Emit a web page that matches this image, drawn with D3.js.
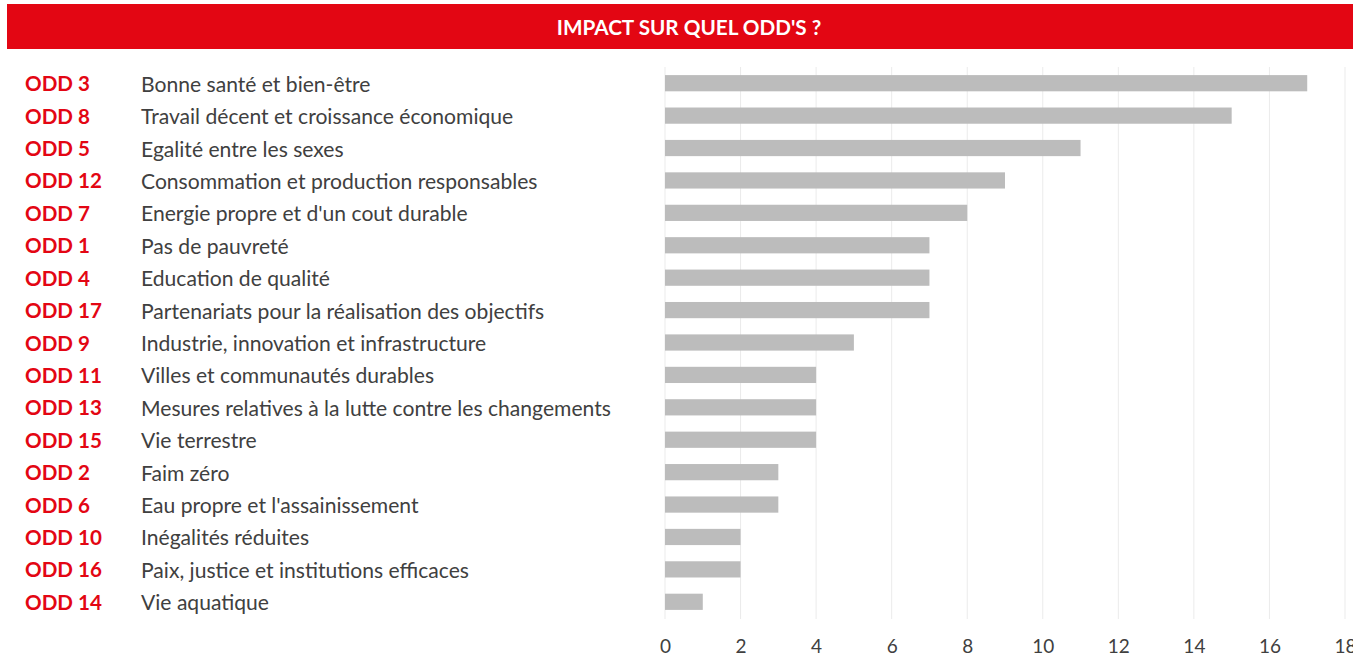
<!DOCTYPE html>
<html>
<head>
<meta charset="utf-8">
<script src="https://cdn.jsdelivr.net/npm/d3@7"></script>
<style>
  html, body { margin: 0; padding: 0; background: #fff; }
  svg { display: block; font-family: Lato, "Open Sans", sans-serif; }
</style>
</head>
<body>
<svg id="chart" width="1353" height="669"></svg>
<script>
// Objectifs de développement durable, triés par nombre de mentions
const codes = ["ODD 3", "ODD 8", "ODD 5", "ODD 12", "ODD 7", "ODD 1", "ODD 4", "ODD 17",
  "ODD 9", "ODD 11", "ODD 13", "ODD 15", "ODD 2", "ODD 6", "ODD 10", "ODD 16", "ODD 14"];
const names = [
  "Bonne santé et bien-être",
  "Travail décent et croissance économique",
  "Egalité entre les sexes",
  "Consommation et production responsables",
  "Energie propre et d'un cout durable",
  "Pas de pauvreté",
  "Education de qualité",
  "Partenariats pour la réalisation des objectifs",
  "Industrie, innovation et infrastructure",
  "Villes et communautés durables",
  "Mesures relatives à la lutte contre les changements",
  "Vie terrestre",
  "Faim zéro",
  "Eau propre et l'assainissement",
  "Inégalités réduites",
  "Paix, justice et institutions efficaces",
  "Vie aquatique"
];
const values = [17, 15, 11, 9, 8, 7, 7, 7, 5, 4, 4, 4, 3, 3, 2, 2, 1];
const xTicks = [0, 2, 4, 6, 8, 10, 12, 14, 16, 18];
const title = "IMPACT SUR QUEL ODD'S ?";

const svg = d3.select("#chart");

// Bandeau de titre
svg.append("rect")
  .attr("x", 7).attr("y", 4).attr("width", 1346).attr("height", 45)
  .attr("fill", "#e30613");
svg.append("text")
  .attr("x", 689).attr("y", 27)
  .attr("text-anchor", "middle").attr("dominant-baseline", "central")
  .attr("fill", "#fff").attr("font-weight", 700).attr("font-size", 20.7)
  .text(title);

const x = d3.scaleLinear().domain([0, 18]).range([665, 1345]);
const y = d3.scaleBand().domain(codes).range([67, 618]).paddingInner(0.5).paddingOuter(0.25);

// Grille verticale
svg.append("g")
  .selectAll("line").data(xTicks).join("line")
  .attr("x1", d => x(d)).attr("x2", d => x(d))
  .attr("y1", 67).attr("y2", 619)
  .attr("stroke", "#ebebeb").attr("stroke-width", 1);

// Barres
svg.append("g")
  .selectAll("rect").data(values).join("rect")
  .attr("x", x(0))
  .attr("y", (d, i) => y(codes[i]))
  .attr("width", d => x(d) - x(0))
  .attr("height", y.bandwidth())
  .attr("fill", "#bcbcbc");

// Axe des valeurs
const axis = svg.append("g")
  .attr("transform", "translate(0,645)")
  .call(d3.axisBottom(x).tickValues(xTicks).tickSize(0).tickPadding(0));
axis.select(".domain").remove();
axis.selectAll("text")
  .attr("font-family", "Lato, sans-serif")
  .attr("font-size", 19)
  .attr("fill", "#404040")
  .attr("dy", null)
  .attr("dominant-baseline", "central");

// Libellés des objectifs
const rows = svg.append("g").selectAll("g").data(codes).join("g")
  .attr("transform", d => `translate(0,${y(d) + y.bandwidth() / 2})`);
rows.append("text")
  .attr("x", 25).attr("dominant-baseline", "central")
  .attr("fill", "#e30613").attr("font-weight", 700).attr("font-size", 20.6)
  .text(d => d);
rows.append("text")
  .attr("x", 141).attr("dominant-baseline", "central")
  .attr("fill", "#404040").attr("font-size", 21.1)
  .text((d, i) => names[i]);
</script>
</body>
</html>
